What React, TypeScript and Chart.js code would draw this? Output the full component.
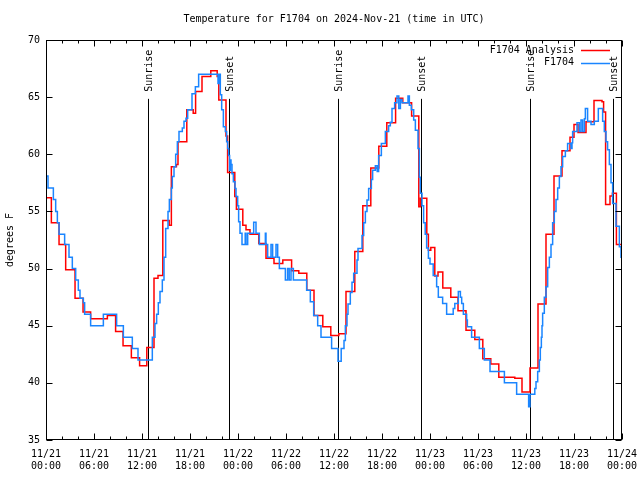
import { useEffect, useRef } from "react";
import { Chart, registerables } from "chart.js";

Chart.register(...registerables);

const FONT = "'DejaVu Sans Mono', 'Liberation Mono', monospace";

const TITLE = "Temperature for F1704 on 2024-Nov-21 (time in UTC)";
const Y_TITLE = "degrees F";

// x axis: hours since 11/21 00:00 UTC
const xTickLabels = [
  ["11/21", "00:00"], ["11/21", "06:00"], ["11/21", "12:00"], ["11/21", "18:00"],
  ["11/22", "00:00"], ["11/22", "06:00"], ["11/22", "12:00"], ["11/22", "18:00"],
  ["11/23", "00:00"], ["11/23", "06:00"], ["11/23", "12:00"], ["11/23", "18:00"],
  ["11/24", "00:00"],
];
const yTicks = [35, 40, 45, 50, 55, 60, 65, 70];

const sunHours = [12.69, 22.9, 36.54, 46.9, 60.54, 70.83];
const sunLabels = ["Sunrise", "Sunset", "Sunrise", "Sunset", "Sunrise", "Sunset"];
const sunLineTop = 64.85;

// F1704 Analysis (red)
const analysisHours = [
  0, 0.67, 1.63, 2.46, 3.63, 4.63, 5.58, 7.67, 8.7, 9.63, 10.67, 11.7, 12.6, 13.5, 14.0,
  14.6, 15.4, 15.67, 16.3, 16.5, 17.6, 18.4, 18.7, 19.5, 20.6, 21.4, 21.6, 22.5, 22.7,
  23.6, 23.8, 24.6, 25.0, 25.5, 26.6, 27.5, 28.5, 29.6, 30.7, 31.6, 32.6, 33.5, 34.6,
  35.6, 36.6, 37.5, 38.6, 39.6, 40.6, 41.6, 42.6, 43.7, 44.6, 45.7, 46.6, 46.8, 47.6,
  47.8, 48.1, 48.6, 49.0, 49.6, 50.6, 51.5, 52.5, 53.6, 54.6, 55.6, 56.6, 58.6, 59.5,
  60.5, 61.5, 62.5, 63.5, 64.5, 65.5, 66.0, 66.5, 67.5, 68.5, 69.5, 69.7, 69.95, 70.5,
  70.8, 71.3, 72,
];
const analysisTemps = [
  56.2, 54.0, 52.1, 49.9, 47.4, 46.2, 45.6, 45.9, 44.5, 43.25, 42.2, 41.5, 43.1, 49.15, 49.4,
  54.2, 53.8, 58.9, 59.1, 61.1, 63.9, 63.6, 65.5, 66.8, 67.3, 66.8, 64.75, 61.6, 58.4,
  56.3, 55.2, 53.8, 53.4, 53.0, 52.2, 50.9, 50.45, 50.75, 49.8, 49.6, 48.1, 45.9, 44.9,
  44.15, 44.3, 48.0, 51.5, 55.5, 58.8, 60.7, 62.75, 64.9, 64.5, 63.35, 55.4, 56.15, 53.0,
  51.6, 51.85, 49.35, 49.7, 48.3, 47.5, 46.3, 44.6, 43.8, 42.1, 41.65, 40.5, 40.4, 39.2,
  41.3, 46.9, 53.0, 58.1, 60.3, 61.5, 62.6, 61.9, 62.85, 64.7, 64.6, 63.7, 55.6, 56.35,
  56.6, 52.1, 52.0,
];

// F1704 observations (blue)
const obsHours = [
  0, 0.25, 0.92, 1.21, 1.42, 1.63, 2.33, 2.875, 3.29, 3.71, 4.04, 4.25, 4.67, 4.83, 5.58,
  7.17, 8.83, 9.67, 10.79, 11.5, 13.29, 13.625, 13.83, 14.04, 14.25, 14.54, 14.75, 14.96,
  15.25, 15.42, 15.67, 15.79, 16.0, 16.21, 16.42, 16.625, 17.04, 17.25, 17.5, 17.71, 18.25,
  18.67, 19.08, 21.5, 21.6, 21.79, 21.96, 22.17, 22.42, 22.58, 22.71, 22.83, 22.95, 23.05,
  23.125, 23.25, 23.42, 23.625, 23.75, 23.96, 24.08, 24.25, 24.5, 24.9, 25.0, 25.21, 25.96,
  26.25, 26.67, 27.42, 27.5, 27.71, 28.125, 28.33, 28.75, 28.96, 29.17, 29.92, 30.2, 30.4,
  30.625, 30.92, 32.58, 33.04, 33.46, 33.96, 34.375, 35.7, 36.5, 36.9, 37.25, 37.42, 37.625,
  37.75, 38.04, 38.25, 38.46, 38.875, 39.0, 39.5, 39.71, 39.92, 40.125, 40.33, 40.67, 40.83,
  41.17, 41.4, 41.58, 41.92, 42.42, 42.83, 43.04, 43.25, 43.58, 43.875, 44.1, 44.3, 44.5,
  45.25, 45.42, 45.67, 45.96, 46.17, 46.5, 46.67, 46.79, 47.0, 47.2, 47.4, 47.58, 47.8, 48.0,
  48.4, 48.83, 49.04, 49.58, 50.08, 50.9, 51.1, 51.54, 51.8, 51.96, 52.17, 52.58, 52.67, 53.2,
  54.17, 54.79, 55.5, 57.3, 58.83, 60.33, 60.5, 61.1, 61.25, 61.46, 61.67, 61.79, 61.92, 62.0,
  62.08, 62.29, 62.5, 62.71, 62.92, 63.125, 63.33, 63.54, 63.75, 63.96, 64.17, 64.375, 64.58,
  64.92, 65.2, 65.625, 65.75, 65.83, 66.375, 66.67, 66.875, 67.08, 67.3, 67.42, 67.7, 68.125,
  68.54, 69.04, 69.58, 69.79, 70.0, 70.2, 70.42, 70.625, 70.83, 71.25, 71.67, 71.875, 72,
];
const obsTemps = [
  58.1, 57.05, 56.05, 55.0, 54.0, 53.0, 52.1, 51.0, 50.0, 49.0, 48.1, 47.4, 47.0, 46.0, 45.0,
  46.0, 45.0, 44.0, 43.0, 42.0, 44.0, 45.2, 46.0, 47.0, 48.0, 49.0, 51.0, 53.5,
  55.0, 56.05, 57.05, 58.05, 58.9, 60.0, 61.1, 62.0, 62.3, 62.9, 63.15, 63.9, 65.3,
  65.9, 67.0, 66.2, 67.0, 65.2, 63.9, 62.4, 62.0, 61.1, 60.5, 59.9, 58.6, 59.5,
  59.1, 58.3, 57.6, 57.0, 56.3, 55.5, 54.1, 53.1, 52.1, 53.1, 52.1, 53.1, 54.05,
  53.1, 52.1, 53.1, 52.1, 51.0, 52.1, 51.0, 52.1, 51.0, 50.0, 49.0, 50.0, 49.0,
  50.0, 49.0, 48.1, 47.1, 45.9, 45.0, 44.0, 43.0, 41.9, 43.0, 43.7, 45.0, 46.0,
  46.9, 47.9, 48.8, 49.6, 50.75, 51.75, 52.9, 54.0, 55.0, 56.0, 57.0, 57.8, 58.6,
  59.0, 58.5, 59.9, 60.95, 62.0, 62.5, 62.8, 64.0, 64.5, 65.1, 64.0, 64.8, 64.5,
  65.1, 64.3, 63.9, 63.0, 62.1, 60.5, 58.0, 56.6, 55.5, 54.0, 53.0, 51.8, 50.9, 50.4,
  49.4, 48.4, 47.5, 46.95, 46.0, 46.5, 46.95, 48.0, 47.5, 46.95, 46.0, 45.5, 44.9, 44.0,
  43.0, 42.0, 41.0, 40.0, 39.0, 37.9, 39.0, 39.5, 40.1, 41.0, 42.0, 43.1, 44.0, 45.0,
  46.1, 47.5, 48.4, 50.1, 51.0, 52.1, 54.0, 55.0, 56.05, 57.05, 58.05, 58.9, 59.8,
  60.3, 60.95, 60.5, 61.0, 62.0, 62.75, 62.0, 63.0, 62.0, 63.1, 64.0, 62.9, 62.6,
  62.9, 64.0, 62.9, 62.0, 61.1, 60.4, 59.1, 57.5, 55.7, 53.7, 51.9, 51.0, 51.0,
];

const RED = "#ff0000";
const BLUE = "#1a85ff";

const gnuplotPlugin = {
  id: "gnuplotDecor",
  beforeDatasetsDraw(chart: any) {
    const { ctx, chartArea: a, scales } = chart;
    const x = scales.x;
    const y = scales.y;
    ctx.save();
    ctx.strokeStyle = "#000";
    ctx.fillStyle = "#000";
    ctx.lineWidth = 1;
    ctx.font = `10px ${FONT}`;
    const top = y.getPixelForValue(sunLineTop);
    sunHours.forEach((h, i) => {
      const px = Math.round(x.getPixelForValue(h)) + 0.5;
      ctx.beginPath();
      ctx.moveTo(px, top);
      ctx.lineTo(px, a.bottom);
      ctx.stroke();
      ctx.save();
      ctx.translate(px + 1, top - 7);
      ctx.rotate(-Math.PI / 2);
      ctx.textAlign = "left";
      ctx.textBaseline = "middle";
      ctx.fillText(sunLabels[i], 0, 0);
      ctx.restore();
    });
    ctx.restore();
  },
  afterDraw(chart: any) {
    const { ctx, chartArea: a, scales } = chart;
    const x = scales.x;
    const y = scales.y;
    ctx.save();
    ctx.strokeStyle = "#000";
    ctx.fillStyle = "#000";
    ctx.lineWidth = 1;
    const L = Math.round(a.left) + 0.5;
    const R = Math.round(a.right) - 0.5;
    const T = Math.round(a.top) + 0.5;
    const B = Math.round(a.bottom) - 0.5;
    ctx.strokeRect(L, T, R - L, B - T);
    ctx.beginPath();
    for (let h = 0; h <= 72; h += 2) {
      const px = Math.round(x.getPixelForValue(h)) + 0.5;
      const len = h % 6 === 0 ? 6 : 3;
      ctx.moveTo(px, B);
      ctx.lineTo(px, B - len);
      ctx.moveTo(px, T);
      ctx.lineTo(px, T + len);
    }
    yTicks.forEach((v) => {
      const py = Math.round(y.getPixelForValue(v)) + 0.5;
      ctx.moveTo(L, py);
      ctx.lineTo(L + 6, py);
      ctx.moveTo(R, py);
      ctx.lineTo(R - 6, py);
    });
    ctx.stroke();

    ctx.font = `10px ${FONT}`;
    // title
    ctx.textAlign = "center";
    ctx.textBaseline = "middle";
    ctx.fillText(TITLE, (a.left + a.right) / 2, 19);
    // y title
    ctx.save();
    ctx.translate(10, (a.top + a.bottom) / 2);
    ctx.rotate(-Math.PI / 2);
    ctx.fillText(Y_TITLE, 0, 0);
    ctx.restore();
    // legend
    const ds = chart.data.datasets;
    ds.forEach((d: any, i: number) => {
      const ly = a.top + 10 + i * 12.5;
      ctx.textAlign = "right";
      ctx.fillStyle = "#000";
      ctx.fillText(d.label, a.right - 48, ly);
      ctx.strokeStyle = d.borderColor;
      ctx.lineWidth = 1.5;
      ctx.beginPath();
      ctx.moveTo(a.right - 41, Math.round(ly) + 0.5);
      ctx.lineTo(a.right - 12, Math.round(ly) + 0.5);
      ctx.stroke();
    });
    ctx.restore();
  },
};

export default function App() {
  const canvasRef = useRef<HTMLCanvasElement | null>(null);

  useEffect(() => {
    if (!canvasRef.current) return;
    const chart = new Chart(canvasRef.current, {
      type: "line",
      data: {
        datasets: [
          {
            label: "F1704 Analysis",
            data: analysisHours.map((h, i) => ({ x: h, y: analysisTemps[i] })),
            borderColor: RED,
            backgroundColor: RED,
            borderWidth: 1.5,
            stepped: true,
            pointRadius: 0,
            fill: false,
            order: 2,
          },
          {
            label: "F1704",
            data: obsHours.map((h, i) => ({ x: h, y: obsTemps[i] })),
            borderColor: BLUE,
            backgroundColor: BLUE,
            borderWidth: 1.5,
            stepped: true,
            pointRadius: 0,
            fill: false,
            order: 1,
          },
        ],
      },
      options: {
        responsive: false,
        animation: false,
        events: [],
        layout: { padding: { left: 0, top: 40, right: 18, bottom: 0 } },
        plugins: {
          legend: { display: false },
          title: { display: false },
          tooltip: { enabled: false },
        },
        scales: {
          x: {
            type: "linear",
            min: 0,
            max: 72,
            grid: { display: false, drawTicks: false },
            border: { display: false },
            afterFit: (s: any) => {
              s.height = 40;
              s.paddingLeft = 0;
              s.paddingRight = 0;
            },
            ticks: {
              stepSize: 6,
              autoSkip: false,
              maxRotation: 0,
              padding: 8,
              color: "#000",
              font: { family: FONT, size: 10 },
              callback: (_v: any, i: number) => xTickLabels[i],
            },
          },
          y: {
            type: "linear",
            min: 35,
            max: 70,
            grid: { display: false, drawTicks: false },
            border: { display: false },
            afterFit: (s: any) => {
              s.width = 46;
              s.paddingTop = 0;
              s.paddingBottom = 0;
            },
            ticks: {
              stepSize: 5,
              padding: 6,
              color: "#000",
              font: { family: FONT, size: 10 },
              callback: (v: any) => String(v),
            },
          },
        },
      },
      plugins: [gnuplotPlugin],
    });
    return () => chart.destroy();
  }, []);

  return (
    <div style={{ position: "absolute", left: 0, top: 0, width: 640, height: 480, background: "#fff" }}>
      <canvas ref={canvasRef} width={640} height={480} />
    </div>
  );
}
